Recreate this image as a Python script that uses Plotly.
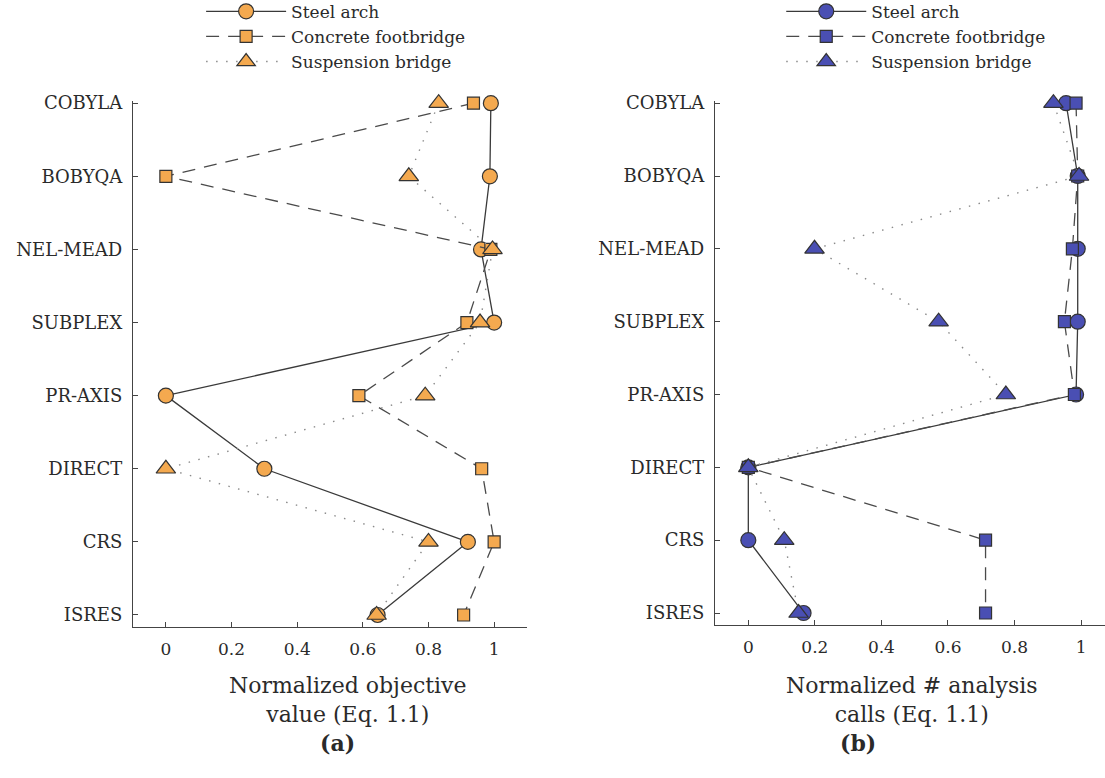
import plotly.graph_objects as go

# Optimisation algorithms, top to bottom
algorithms = ["COBYLA", "BOBYQA", "NEL-MEAD", "SUBPLEX", "PR-AXIS", "DIRECT", "CRS", "ISRES"]
y_pos = list(range(len(algorithms)))

# (a) normalized objective value
obj_steel = [0.99, 0.987, 0.96, 1.0, 0.0, 0.30, 0.92, 0.645]
obj_concrete = [0.937, 0.0, 0.99, 0.917, 0.588, 0.962, 1.0, 0.907]
obj_suspension = [0.831, 0.74, 0.995, 0.957, 0.79, 0.0, 0.80, 0.642]

# (b) normalized number of analysis calls
calls_steel = [0.955, 0.99, 0.99, 0.99, 0.985, 0.0, 0.0, 0.166]
calls_concrete = [0.985, 0.99, 0.974, 0.95, 0.98, 0.0, 0.713, 0.713]
calls_suspension = [0.917, 0.994, 0.199, 0.572, 0.774, 0.0, 0.108, 0.151]

x_ticks = [0, 0.2, 0.4, 0.6, 0.8, 1]
x_tick_text = ["0", "0.2", "0.4", "0.6", "0.8", "1"]

series_names = ["Steel arch", "Concrete footbridge", "Suspension bridge"]
symbols = ["circle", "square", "triangle-up"]
sizes = [15, 12, 17]
line_styles = [
    dict(color="#3a3a3a", width=1.3, dash="solid"),
    dict(color="#4a4a4a", width=1.3, dash="13px,9px"),
    dict(color="#8a8a8a", width=1.4, dash="1.5px,8.5px"),
]

ORANGE = "#F4A94F"
BLUE = "#4A4FB3"
SERIF = "DejaVu Serif, Liberation Serif, serif"
TEXT = "#2a2a2a"

fig = go.Figure()

panels = [
    ("x", "y", "legend", ORANGE, [obj_steel, obj_concrete, obj_suspension]),
    ("x2", "y2", "legend2", BLUE, [calls_steel, calls_concrete, calls_suspension]),
]
for xa, ya, lg, fill, data in panels:
    for name, sym, sz, ls, vals in zip(series_names, symbols, sizes, line_styles, data):
        fig.add_trace(go.Scatter(
            x=vals, y=y_pos, name=name, mode="lines+markers",
            xaxis=xa, yaxis=ya, legend=lg, cliponaxis=False,
            line=ls,
            marker=dict(symbol=sym, size=sz, color=fill,
                        line=dict(color="#333333", width=1.2)),
        ))

y_range = [7.164, -0.03]
axis_common = dict(showline=True, linecolor="#444444", linewidth=1.3,
                   ticks="inside", ticklen=5, tickcolor="#444444",
                   showgrid=False, zeroline=False, mirror=False)
x_font = dict(family=SERIF, size=17, color=TEXT)
y_font = dict(family=SERIF, size=18, color=TEXT)

legend_common = dict(
    font=dict(family=SERIF, size=17, color=TEXT),
    bgcolor="rgba(0,0,0,0)", itemwidth=80, tracegroupgap=0,
    xanchor="left", yanchor="top", itemclick=False,
)

fig.update_layout(
    width=1105, height=778,
    margin=dict(l=0, r=0, t=0, b=0, autoexpand=False),
    paper_bgcolor="white", plot_bgcolor="white",
    font=dict(family=SERIF, color=TEXT),
    showlegend=True,
    xaxis=dict(domain=[0.1204, 0.4769], range=[-0.1, 1.1], anchor="y",
               tickvals=x_ticks, ticktext=x_tick_text, tickfont=x_font,
               ticklabelstandoff=6, **axis_common),
    yaxis=dict(domain=[0.1941, 0.8702], range=y_range, anchor="x",
               tickvals=y_pos, ticktext=algorithms, tickfont=y_font,
               ticklabelstandoff=6, **axis_common),
    xaxis2=dict(domain=[0.6471, 1.0], range=[-0.1, 1.072], anchor="y2",
                tickvals=x_ticks, ticktext=x_tick_text, tickfont=x_font,
                ticklabelstandoff=6, **axis_common),
    yaxis2=dict(domain=[0.1967, 0.8702], range=y_range, anchor="x2",
                tickvals=y_pos, ticktext=algorithms, tickfont=y_font,
                ticklabelstandoff=6, **axis_common),
    legend=dict(x=0.182, y=1.008, **legend_common),
    legend2=dict(x=0.707, y=1.008, **legend_common),
)

fig.add_annotation(text="Normalized objective<br>value (Eq. 1.1)",
                   xref="x domain", yref="paper", x=0.545, y=1 - 671 / 778,
                   xanchor="center", yanchor="top", showarrow=False,
                   font=dict(family=SERIF, size=22, color=TEXT))
fig.add_annotation(text="Normalized # analysis<br>calls (Eq. 1.1)",
                   xref="x2 domain", yref="paper", x=0.505, y=1 - 671 / 778,
                   xanchor="center", yanchor="top", showarrow=False,
                   font=dict(family=SERIF, size=22, color=TEXT))
fig.add_annotation(text="<b>(a)</b>", xref="paper", yref="paper",
                   x=337 / 1105, y=1 - 743 / 778, xanchor="center", yanchor="middle",
                   showarrow=False, font=dict(family=SERIF, size=22, color=TEXT))
fig.add_annotation(text="<b>(b)</b>", xref="paper", yref="paper",
                   x=858 / 1105, y=1 - 743 / 778, xanchor="center", yanchor="middle",
                   showarrow=False, font=dict(family=SERIF, size=22, color=TEXT))

fig.write_html("out.html")
